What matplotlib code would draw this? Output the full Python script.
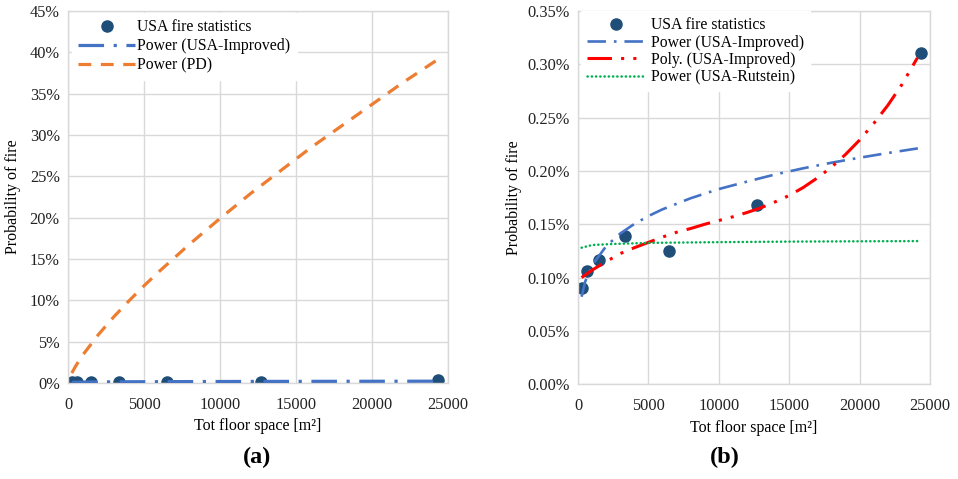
#! /usr/bin/env python3

'''
Probability of fire against total floor space, two panels:
(a) USA statistics with power fits, (b) zoom on the USA statistics with fits.
'''

import matplotlib
matplotlib.use('Agg')
import matplotlib.pyplot as plt
from matplotlib.ticker import FuncFormatter


# observed USA fire statistics (floor space m2, probability in %)
stats_x = [260, 620, 1490, 3340, 6490, 12730, 24330]
stats_y = [0.090, 0.106, 0.116, 0.139, 0.125, 0.168, 0.311]

# trend lines
improved_x = [250, 500, 1000, 2000, 3000, 4000, 5000, 6000, 8000, 10000,
              12000, 14000, 16000, 18000, 20000, 22000, 24300]
improved_y = [0.082, 0.096, 0.1115, 0.1295, 0.1413, 0.1503, 0.1577, 0.164,
              0.1744, 0.183, 0.190, 0.1967, 0.2025, 0.2077, 0.2124, 0.2168,
              0.2215]
pd_y = [1.2, 2.04, 3.46, 5.86, 7.98, 9.92, 11.76, 13.5, 16.8, 19.9,
        22.9, 25.7, 28.5, 31.1, 33.7, 36.3, 39.1]

poly_x = [250, 1000, 2000, 3000, 4000, 5000, 6000, 7000, 8000, 9000, 10000,
          11000, 12000, 13000, 14000, 15000, 16000, 17000, 18000, 19000,
          20000, 21000, 22000, 23000, 24100]
poly_y = [0.100, 0.107, 0.115, 0.1225, 0.128, 0.133, 0.138, 0.1425, 0.146,
          0.150, 0.1535, 0.157, 0.161, 0.1655, 0.171, 0.177, 0.1845, 0.1935,
          0.2035, 0.2155, 0.229, 0.2445, 0.2615, 0.281, 0.306]

rutstein_x = [250, 1000, 2500, 5000, 10000, 15000, 20000, 24300]
rutstein_y = [0.128, 0.1305, 0.1315, 0.1325, 0.1332, 0.1337, 0.134, 0.1342]

x_ticks = [0, 5000, 10000, 15000, 20000, 25000]

c_point = '#1F4E79'
c_blue = '#4472C4'
c_orange = '#ED7D31'
c_red = '#FF0000'
c_green = '#00B050'
c_grid = '#D9D9D9'

xlabel = 'Tot floor space [m²]'
ylabel = 'Probability of fire'

plt.rcParams['font.family'] = ['Liberation Serif', 'DejaVu Serif']
plt.rcParams['font.size'] = 11.3


def style_axes(ax):
    for spine in ax.spines.values():
        spine.set_color(c_grid)
        spine.set_linewidth(1)
    ax.grid(True, color=c_grid, linewidth=1)
    ax.set_axisbelow(True)
    ax.tick_params(length=0, labelsize=11.8, colors='#222222', pad=6)
    ax.tick_params(axis='x', pad=10)
    ax.set_xlim(0, 25000)
    ax.set_xticks(x_ticks)
    ax.set_xlabel(xlabel, fontsize=11.5, labelpad=4)
    ax.set_ylabel(ylabel, fontsize=11.5)


def add_points(ax):
    ax.plot(stats_x, stats_y, linestyle='none', marker='o', markersize=8,
            color=c_point, label='USA fire statistics', zorder=2)


fig = plt.figure(figsize=(9.58, 4.79), dpi=100)

# panel (a)
ax1 = fig.add_axes([0.071, 0.2004, 0.3966, 0.7766])
add_points(ax1)
ax1.plot(improved_x, improved_y, color=c_blue, linewidth=2.3,
         linestyle=(0, (8, 3, 1, 3)), label='Power (USA-Improved)', zorder=3)
ax1.plot(improved_x, pd_y, color=c_orange, linewidth=2.3,
         linestyle=(0, (4, 3)), label='Power (PD)', zorder=3)
ax1.set_ylim(0, 45)
ax1.set_yticks(range(0, 46, 5))
ax1.yaxis.set_major_formatter(FuncFormatter(lambda v, p: f'{v:.0f}%'))
style_axes(ax1)
ax1.yaxis.set_label_coords(-0.125, 0.5)
leg1 = ax1.legend(loc='upper left', borderaxespad=0.0, handlelength=3.6,
                  handletextpad=0.15, frameon=True, fancybox=False,
                  edgecolor='white', framealpha=1, fontsize=11.3,
                  labelspacing=0.2, numpoints=1,
                  bbox_to_anchor=(0.011, 0.995))
leg1.set_zorder(5)

# panel (b)
ax2 = fig.add_axes([0.6034, 0.198, 0.3674, 0.779])
add_points(ax2)
ax2.plot(improved_x, improved_y, color=c_blue, linewidth=1.9,
         linestyle=(0, (7, 3, 1, 3)), label='Power (USA-Improved)', zorder=3)
ax2.plot(poly_x, poly_y, color=c_red, linewidth=2.2,
         linestyle=(0, (8, 3, 1, 3, 1, 3)), label='Poly. (USA-Improved)',
         zorder=3)
ax2.plot(rutstein_x, rutstein_y, color=c_green, linewidth=1.8,
         linestyle=(0, (0.1, 1.6)), dash_capstyle='round',
         label='Power (USA-Rutstein)', zorder=3)
ax2.set_ylim(0, 0.35)
ax2.set_yticks([i * 0.05 for i in range(8)])
ax2.yaxis.set_major_formatter(FuncFormatter(lambda v, p: f'{v:.2f}%'))
style_axes(ax2)
ax2.yaxis.set_label_coords(-0.16, 0.5)
leg2 = ax2.legend(loc='upper left', borderaxespad=0.0, handlelength=3.7,
                  handletextpad=0.35, frameon=True, fancybox=False,
                  edgecolor='white', framealpha=1, fontsize=11.3,
                  labelspacing=0.08, numpoints=1,
                  bbox_to_anchor=(0.008, 1.0))
leg2.set_zorder(5)

fig.text(0.268, 0.044, '(a)', ha='center', va='center', fontsize=17.5,
         fontweight='bold')
fig.text(0.757, 0.044, '(b)', ha='center', va='center', fontsize=17.5,
         fontweight='bold')

fig.savefig('out.png', dpi=100)
